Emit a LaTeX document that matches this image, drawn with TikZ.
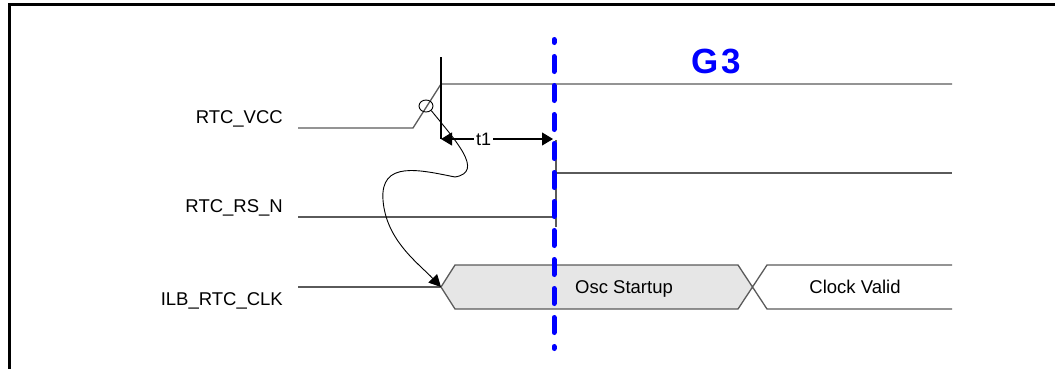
\documentclass[tikz,border=0pt]{standalone}
\usepackage{fontspec}
\setmainfont{Liberation Sans}
\usetikzlibrary{arrows.meta,shapes.geometric}
\definecolor{sig}{HTML}{5A5A5A}
\definecolor{oscfill}{HTML}{E6E6E6}
\definecolor{gblue}{HTML}{0000FF}
\begin{document}
\begin{tikzpicture}[x=1pt,y=-1pt,
  sigline/.style={draw=sig,line width=1.3pt},
  lbl/.style={font=\fontsize{18.5}{22}\selectfont,inner sep=0pt},
  tarrow/.style={line width=1.1pt,{Triangle[length=11pt,width=13pt]}-{Triangle[length=11pt,width=13pt]}},
  curvearrow/.style={line width=0.9pt,-{Triangle[length=12pt,width=12pt]}},
  gline/.style={draw=gblue,line width=5pt,line cap=round,dash pattern=on 15pt off 14pt,dash phase=12pt}]
\useasboundingbox (0,0) rectangle (1055,368);
\clip (0,0) rectangle (1055,368);
% frame
\draw[line width=2.3pt] (9.5,400) -- (9.5,4.5) -- (1100,4.5);
% labels
\node[lbl,anchor=base east] (lvcc) at (283,123) {RTC\_VCC};
\node[lbl,anchor=base east] (lrs) at (283,212) {RTC\_RS\_N};
\node[lbl,anchor=base east] (lclk) at (283,305) {ILB\_RTC\_CLK};
% clock box
\fill[oscfill] (441,287) -- (455,265) -- (738,265) -- (752,287) -- (738,309) -- (455,309) -- cycle;
\draw[sigline] (298,287) -- (441,287);
\draw[sigline] (952,265) -- (767,265) -- (738,309) -- (455,309) -- (441,287) -- (455,265) -- (738,265) -- (767,309) -- (952,309);
\coordinate (clkedge) at (441,287);
\node[lbl,anchor=base] (osc) at (624,293) {Osc Startup};
\node[lbl,anchor=base] (cv) at (855,293) {Clock Valid};
% RTC_VCC
\draw[sigline] (298,128) -- (413,128) -- (441,84) -- (952,84);
\draw[line width=1.3pt] (441,57) coordinate (vtop) -- (441,139) coordinate (t1l);
\node[draw,ellipse,minimum width=14pt,minimum height=12pt,inner sep=0pt,line width=0.9pt] (ring) at (426,106) {};
% RTC_RS_N
\draw[sigline] (298,217) -- (556,217);
\draw[sigline] (556,140) -- (556,227);
\draw[sigline] (556,173) -- (952,173);
% t1
\coordinate (t1r) at (553,139);
\draw[tarrow] (t1l) -- node[pos=0.38,fill=white,inner sep=2pt,font=\fontsize{18}{20}\selectfont] (t1) {t1} (t1r);
% curve
\draw[curvearrow] (ring.south east) .. controls (455,140) and (485,172) .. (455,177)
  .. controls (420,170) and (380,160) .. (383,200)
  .. controls (386,240) and (418,263) .. (clkedge);
% G3 line
\coordinate (gtop) at (554,39.5);
\coordinate (gbot) at (554,348.5);
\draw[gline] (gtop) -- (gbot);
\node[font=\bfseries\fontsize{35}{40}\selectfont,text=gblue,anchor=base,inner sep=0pt] (g3) at (716,73) {G\hspace{3pt}3};
\end{tikzpicture}
\end{document}
